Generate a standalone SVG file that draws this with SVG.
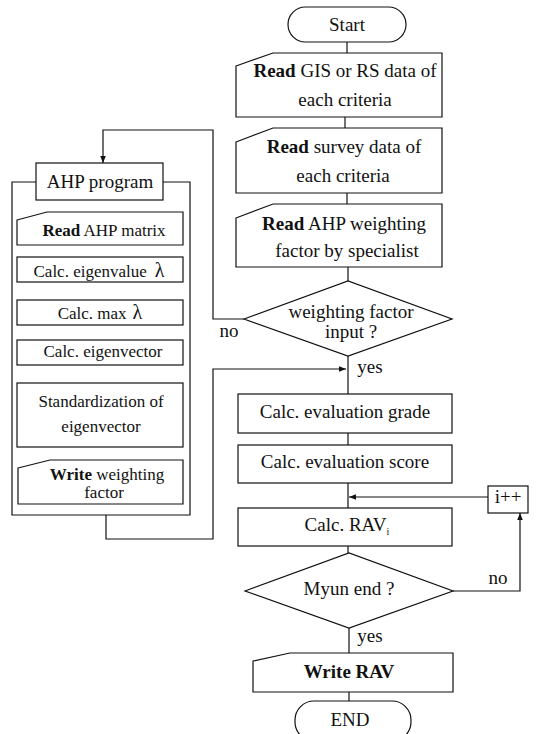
<svg xmlns="http://www.w3.org/2000/svg" width="543" height="734" viewBox="0 0 543 734" font-family="'Liberation Serif', 'Times New Roman', 'DejaVu Serif', serif">
<defs>
<marker id="arr" viewBox="0 0 10 10" refX="10" refY="5" markerWidth="7" markerHeight="7" orient="auto" markerUnits="userSpaceOnUse">
<path d="M0,1 L10,5 L0,9 Z" fill="#111"/>
</marker>
<style>
.s{fill:#fff;stroke:#111;stroke-width:1.2}
.c{fill:none;stroke:#111;stroke-width:1.2}
.t{font-size:19px;fill:#111;text-anchor:middle}
.l{font-size:17px;fill:#111;text-anchor:middle}
.b{font-weight:bold}
</style>
</defs>
<rect width="543" height="734" fill="#fff"/>
<g id="connectors">
<path class="c" d="M347,42 V53"/>
<path class="c" d="M345,117 V128"/>
<path class="c" d="M347,193 V204"/>
<path class="c" d="M348,267 V281"/>
<path class="c" d="M244,319 H213 V130 H103 V163" marker-end="url(#arr)"/>
<path class="c" d="M348,356 V394"/>
<path class="c" d="M106,515 V539 H213 V369 H346" marker-end="url(#arr)"/>
<path class="c" d="M348,433 V445"/>
<path class="c" d="M348,483 V508"/>
<path class="c" d="M488,497 H349" marker-end="url(#arr)"/>
<path class="c" d="M348,546 V553"/>
<path class="c" d="M453,591 H520 V513" marker-end="url(#arr)"/>
<path class="c" d="M349,628 V653"/>
<path class="c" d="M349,692 V701"/>
<text class="t" x="229" y="337" font-family="Liberation Serif, serif">no</text>
<text class="t" x="370" y="373" font-family="Liberation Serif, serif">yes</text>
<text class="t" x="498" y="584" font-family="Liberation Serif, serif">no</text>
<text class="t" x="370" y="642" font-family="Liberation Serif, serif">yes</text>
</g>
<g id="start">
<rect class="s" x="288" y="7" width="118" height="35" rx="17.5"/>
<text class="t" x="347" y="31" font-family="Liberation Serif, serif">Start</text>
</g>
<g id="read-gis">
<path class="s" d="M236,66 L273,53 H442 V117 H236 Z"/>
<text class="t" x="345" y="77" font-family="Liberation Serif, serif"><tspan class="b">Read</tspan> GIS or RS data of</text>
<text class="t" x="345" y="106" font-family="Liberation Serif, serif">each criteria</text>
</g>
<g id="read-survey">
<path class="s" d="M236,142 L273,128 H442 V193 H236 Z"/>
<text class="t" x="344" y="153" font-family="Liberation Serif, serif"><tspan class="b">Read</tspan> survey data of</text>
<text class="t" x="343" y="182" font-family="Liberation Serif, serif">each criteria</text>
</g>
<g id="read-ahp">
<path class="s" d="M236,218 L273,204 H442 V267 H236 Z"/>
<text class="t" x="344" y="230" font-family="Liberation Serif, serif"><tspan class="b">Read</tspan> AHP weighting</text>
<text class="t" x="347" y="257" font-family="Liberation Serif, serif">factor by specialist</text>
</g>
<g id="decision-weight">
<path class="s" d="M244,319 L348,281 L452,319 L348,356 Z"/>
<text class="t" x="351" y="318" font-family="Liberation Serif, serif">weighting factor</text>
<text class="t" x="351" y="338" font-family="Liberation Serif, serif">input ?</text>
</g>
<g id="eval-grade">
<rect class="s" x="238" y="394" width="214" height="39"/>
<text class="t" x="345" y="418" font-family="Liberation Serif, serif">Calc. evaluation grade</text>
</g>
<g id="eval-score">
<rect class="s" x="238" y="445" width="214" height="38"/>
<text class="t" x="345" y="468" font-family="Liberation Serif, serif">Calc. evaluation score</text>
</g>
<g id="calc-rav">
<rect class="s" x="238" y="508" width="214" height="38"/>
<text class="t" x="347" y="531" font-family="Liberation Serif, serif">Calc. RAV<tspan font-size="10" dy="4">i</tspan></text>
</g>
<g id="iplus">
<rect class="s" x="488" y="486" width="40" height="27"/>
<text class="t" x="508" y="503" font-family="Liberation Serif, serif">i++</text>
</g>
<g id="decision-myun">
<path class="s" d="M245,591 L349,553 L453,591 L349,628 Z"/>
<text class="t" x="349" y="595" font-family="Liberation Serif, serif">Myun end ?</text>
</g>
<g id="write-rav">
<path class="s" d="M253,661 L290,653 H453 V692 H253 Z"/>
<text class="t b" x="349" y="678" font-family="Liberation Serif, serif">Write RAV</text>
</g>
<g id="end">
<rect class="s" x="295" y="701" width="116" height="40" rx="19"/>
<text class="t" x="350" y="726" font-family="Liberation Serif, serif">END</text>
</g>
<g id="ahp-program">
<path class="c" d="M36,182 H12 V515 H190 V182 H163"/>
<rect class="s" x="36" y="163" width="127" height="37"/>
<text class="t" x="100" y="188" font-family="Liberation Serif, serif">AHP program</text>
</g>
<g id="read-matrix">
<path class="s" d="M17,220 L47,212 H183 V245 H17 Z"/>
<text class="l" x="104" y="236" font-family="Liberation Serif, serif"><tspan class="b">Read</tspan> AHP matrix</text>
</g>
<g id="calc-eigenvalue">
<rect class="s" x="17" y="257" width="166" height="25"/>
<text class="l" x="99" y="277" font-family="Liberation Serif, serif">Calc. eigenvalue<tspan dx="8" font-size="20">λ</tspan></text>
</g>
<g id="calc-max">
<rect class="s" x="17" y="300" width="166" height="25"/>
<text class="l" x="100" y="319" font-family="Liberation Serif, serif">Calc. max<tspan dx="6" font-size="20">λ</tspan></text>
</g>
<g id="calc-eigenvector">
<rect class="s" x="17" y="340" width="166" height="25"/>
<text class="l" x="103" y="357" font-family="Liberation Serif, serif">Calc. eigenvector</text>
</g>
<g id="standardization">
<rect class="s" x="17" y="383" width="166" height="64"/>
<text class="l" x="101" y="407" font-family="Liberation Serif, serif">Standardization of</text>
<text class="l" x="101" y="432" font-family="Liberation Serif, serif">eigenvector</text>
</g>
<g id="write-weight">
<path class="s" d="M18,468 L50,460 H183 V504 H18 Z"/>
<text class="l" x="107" y="480" font-size="15.5" font-family="Liberation Serif, serif"><tspan class="b">Write</tspan> weighting</text>
<text class="l" x="104" y="498" font-size="15.5" font-family="Liberation Serif, serif">factor</text>
</g>
</svg>
